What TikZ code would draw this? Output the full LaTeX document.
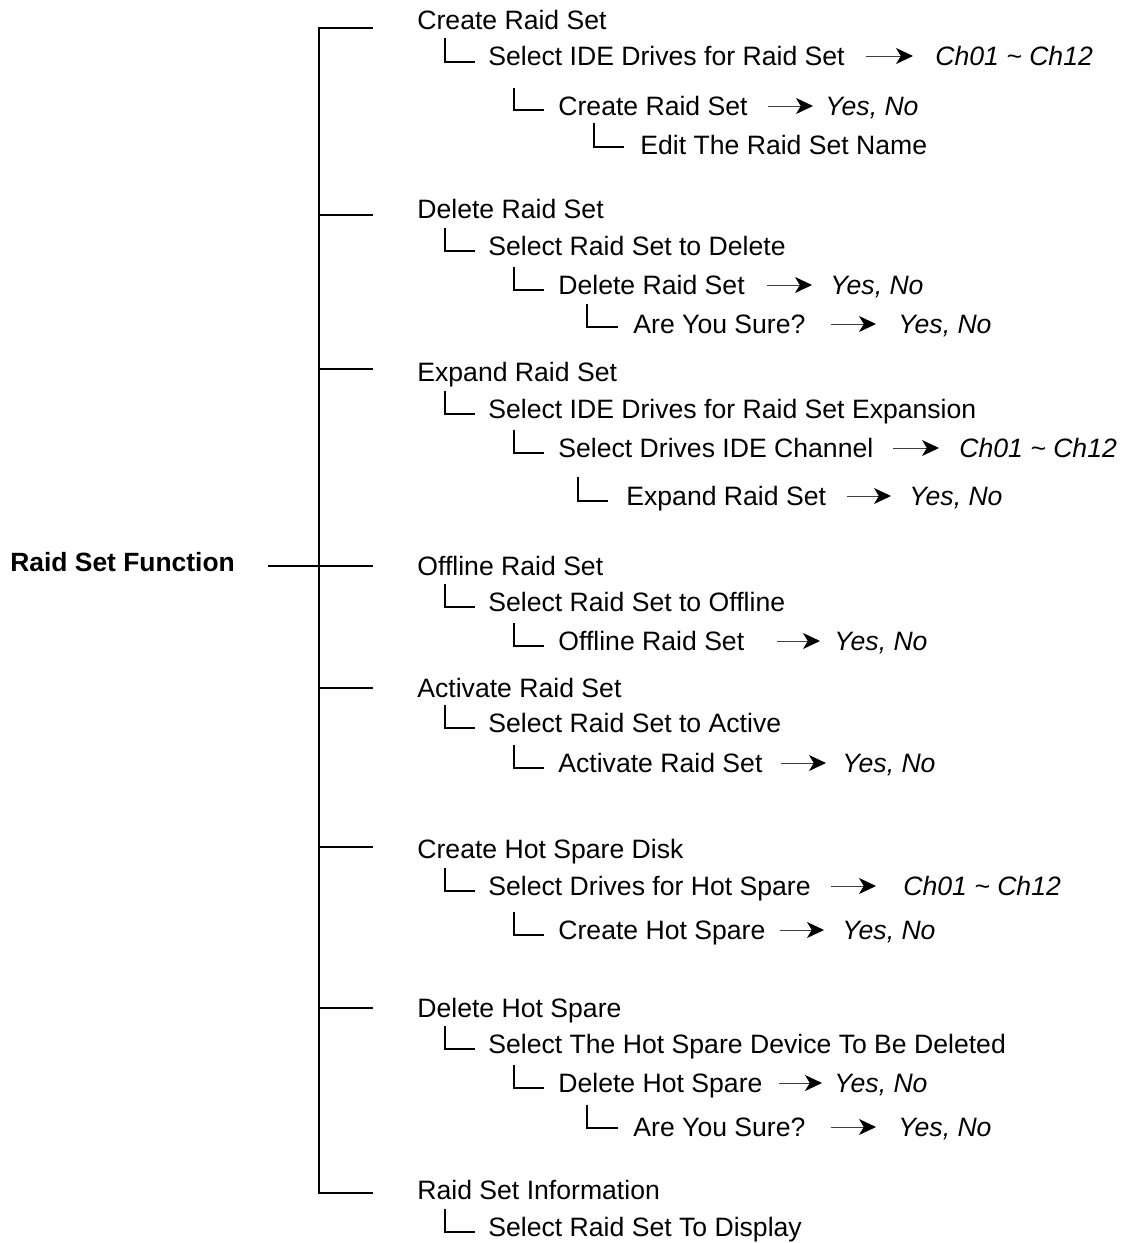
\documentclass[tikz,border=0pt]{standalone}
\usepackage{fontspec}
\setmainfont{Liberation Sans}
\usetikzlibrary{arrows.meta}
\tikzset{
  txt/.style={anchor=base west, inner sep=0pt, font=\fontsize{13.3pt}{16pt}\selectfont},
  ital/.style={anchor=base west, inner sep=0pt, font=\fontsize{13.3pt}{16pt}\selectfont\itshape},
  rootbox/.style={anchor=base west, inner sep=0pt, font=\fontsize{13.2pt}{16pt}\selectfont\bfseries},
  tree/.style={line width=1pt, black},
  lsh/.style={line width=0.95pt, black},
  arr/.style={line width=0.5pt, black!75, -{Stealth[length=8.5pt, width=8pt, inset=2.4pt, fill=black, color=black]}}
}
\newcommand\ELL[5]{\draw[lsh] ([shift={(#2,#3)}]#1.base west) |- ([shift={(#4,#5)}]#1.base west);}
\newcommand\ARR[4]{\draw[arr] ([shift={(#3,-9)}]#1.base east) -- ([shift={(-#4,-9)}]#2.base west);}
\begin{document}
\begin{tikzpicture}[x=0.5pt,y=-0.5pt]
\fill[white] (0,0) rectangle (1124,1243);
\useasboundingbox (0,0) rectangle (1124,1243);

% root
\node[rootbox] (root) at (10,571) {Raid Set Function};

% Create Raid Set
\node[txt] (c1) at (417,29) {Create Raid Set};
\node[txt] (c1a) at (488,65) {Select IDE Drives for Raid Set};
\node[ital] (c1ar) at (935,65) {Ch01 \textasciitilde\ Ch12};
\node[txt] (c1b) at (558,115) {Create Raid Set};
\node[ital] (c1br) at (825,115) {Yes, No};
\node[txt] (c1c) at (640,154) {Edit The Raid Set Name};

% Delete Raid Set
\node[txt] (d1) at (417,218) {Delete Raid Set};
\node[txt] (d1a) at (488,255) {Select Raid Set to Delete};
\node[txt] (d1b) at (558,294) {Delete Raid Set};
\node[ital] (d1br) at (830,294) {Yes, No};
\node[txt] (d1c) at (633,333) {Are You Sure?};
\node[ital] (d1cr) at (898,333) {Yes, No};

% Expand Raid Set
\node[txt] (e1) at (417,381) {Expand Raid Set};
\node[txt] (e1a) at (488,418) {Select IDE Drives for Raid Set Expansion};
\node[txt] (e1b) at (558,457) {Select Drives IDE Channel};
\node[ital] (e1br) at (959,457) {Ch01 \textasciitilde\ Ch12};
\node[txt] (e1c) at (626,505) {Expand Raid Set};
\node[ital] (e1cr) at (909,505) {Yes, No};

% Offline Raid Set
\node[txt] (o1) at (417,575) {Offline Raid Set};
\node[txt] (o1a) at (488,611) {Select Raid Set to Offline};
\node[txt] (o1b) at (558,650) {Offline Raid Set};
\node[ital] (o1br) at (834,650) {Yes, No};

% Activate Raid Set
\node[txt] (a1) at (417,697) {Activate Raid Set};
\node[txt] (a1a) at (488,732) {Select Raid Set to Active};
\node[txt] (a1b) at (558,772) {Activate Raid Set};
\node[ital] (a1br) at (842,772) {Yes, No};

% Create Hot Spare Disk
\node[txt] (h1) at (417,858) {Create Hot Spare Disk};
\node[txt] (h1a) at (488,895) {Select Drives for Hot Spare};
\node[ital] (h1ar) at (903,895) {Ch01 \textasciitilde\ Ch12};
\node[txt] (h1b) at (558,939) {Create Hot Spare};
\node[ital] (h1br) at (842,939) {Yes, No};

% Delete Hot Spare
\node[txt] (x1) at (417,1017) {Delete Hot Spare};
\node[txt] (x1a) at (488,1053) {Select The Hot Spare Device To Be Deleted};
\node[txt] (x1b) at (558,1092) {Delete Hot Spare};
\node[ital] (x1br) at (834,1092) {Yes, No};
\node[txt] (x1c) at (633,1136) {Are You Sure?};
\node[ital] (x1cr) at (898,1136) {Yes, No};

% Raid Set Information
\node[txt] (i1) at (417,1199) {Raid Set Information};
\node[txt] (i1a) at (488,1236) {Select Raid Set To Display};

% tree spine and branches
\foreach \n/\y in {1/28,2/215,3/369,4/566,5/688,6/847,7/1008,8/1193}{
  \coordinate (s\n) at (319,\y);
  \coordinate (b\n) at (373,\y);
}
\draw[tree] (b1) -- (s1) -- (s8) -- (b8);
\foreach \n in {2,3,4,5,6,7}{\draw[tree] (s\n) -- (b\n);}
\draw[tree] ([shift={(33,-5)}]root.base east) -- (s4);

% L-shaped sub connectors
\ELL{c1a}{-43}{-27}{-13}{-3}
\ELL{c1b}{-44}{-27}{-14}{-5}
\ELL{c1c}{-46}{-31}{-16}{-7}
\ELL{d1a}{-43}{-27}{-13}{-4}
\ELL{d1b}{-44}{-27}{-14}{-4}
\ELL{d1c}{-46}{-29}{-15}{-6}
\ELL{e1a}{-43}{-27}{-13}{-4}
\ELL{e1b}{-44}{-27}{-14}{-4}
\ELL{e1c}{-48}{-28}{-18}{-4}
\ELL{o1a}{-43}{-27}{-13}{-4}
\ELL{o1b}{-44}{-27}{-14}{-4}
\ELL{a1a}{-43}{-27}{-13}{-4}
\ELL{a1b}{-44}{-27}{-14}{-4}
\ELL{h1a}{-43}{-27}{-13}{-4}
\ELL{h1b}{-44}{-27}{-14}{-4}
\ELL{x1a}{-43}{-27}{-13}{-4}
\ELL{x1b}{-44}{-27}{-14}{-4}
\ELL{x1c}{-46}{-31}{-15}{-8}
\ELL{i1a}{-43}{-27}{-13}{-4}

% arrows
\ARR{c1a}{c1ar}{21}{22}
\ARR{c1b}{c1br}{20}{12}
\ARR{d1b}{d1br}{22}{18}
\ARR{d1c}{d1cr}{25}{22}
\ARR{e1b}{e1br}{19}{20}
\ARR{e1c}{e1cr}{21}{18}
\ARR{o1b}{o1br}{32}{14}
\ARR{a1b}{a1br}{18}{16}
\ARR{h1a}{h1ar}{20}{27}
\ARR{h1b}{h1br}{14}{18}
\ARR{x1b}{x1br}{16}{12}
\ARR{x1c}{x1cr}{25}{22}
\end{tikzpicture}
\end{document}
